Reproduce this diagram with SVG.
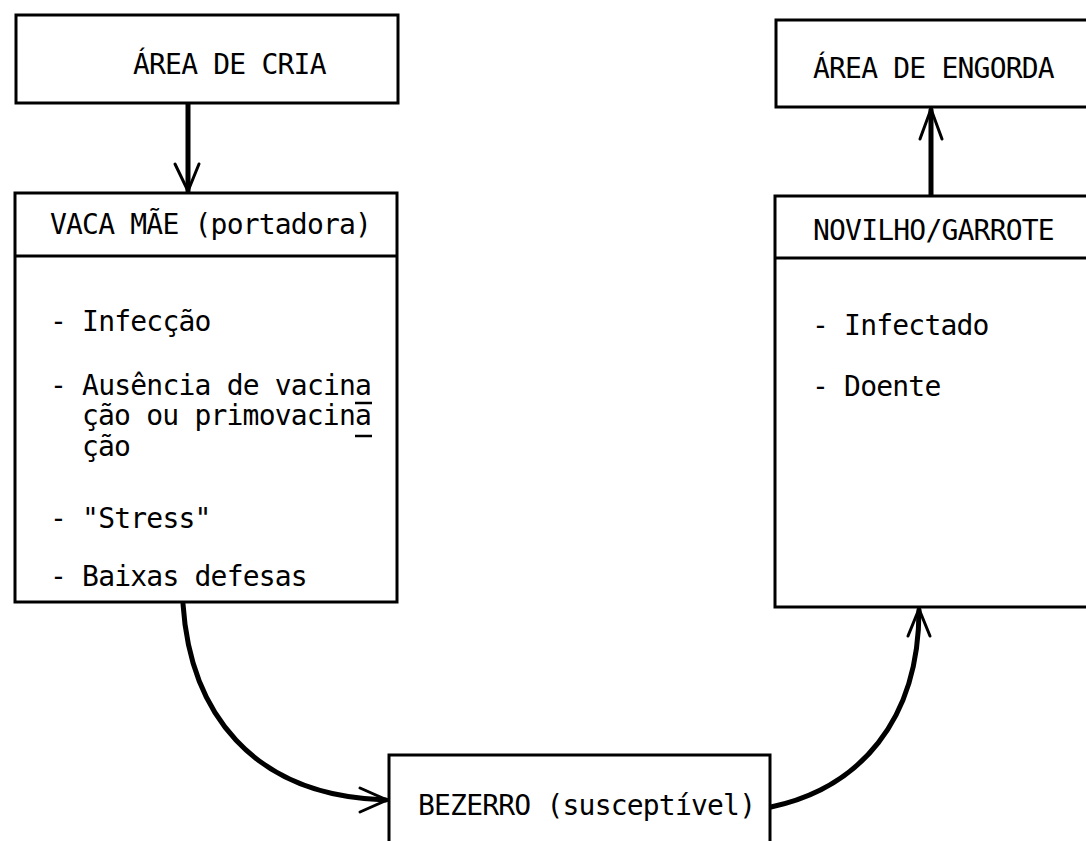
<svg xmlns="http://www.w3.org/2000/svg" width="1086" height="841" viewBox="0 0 1086 841">
<defs>
<style>
.box{fill:#fff;stroke:#000;stroke-width:3}
.div{stroke:#000;stroke-width:3}
.t{font-family:"DejaVu Sans Mono","Liberation Mono",monospace;font-size:28px;letter-spacing:-0.8px;fill:#000}
.con{fill:none;stroke:#000;stroke-width:5;stroke-linecap:round}
.head{fill:none;stroke:#000;stroke-width:3;stroke-linecap:round;stroke-linejoin:miter}
.ul{stroke:#000;stroke-width:2.5}
</style>
</defs>
<rect width="1086" height="841" fill="#fff"/>
<g id="connectors">
<line class="con" x1="188" y1="104" x2="188" y2="191"/>
<polyline class="head" points="175,164 188,191 199,164"/>
<line class="con" x1="931" y1="195" x2="931" y2="110"/>
<polyline class="head" points="920,139 931,109 942,139"/>
<path class="con" d="M183,604 C190,710 250,796 386,800"/>
<polyline class="head" points="360,788 387,800 360,812"/>
<path class="con" d="M771,807 C860,788 919,720 919,610"/>
<polyline class="head" points="908,636 919,609 930,636"/>
</g>
<g id="area-cria">
<rect class="box" x="16" y="15" width="382" height="88"/>
<text class="t" x="133" y="74">ÁREA DE CRIA</text>
</g>
<g id="vaca-mae">
<rect class="box" x="15" y="193" width="382" height="409"/>
<line class="div" x1="15" y1="256" x2="397" y2="256"/>
<text class="t" x="50" y="234">VACA MÃE (portadora)</text>
<text class="t" x="50" y="331">- Infecção</text>
<text class="t" x="50" y="395">- Ausência de vacina</text>
<text class="t" x="82" y="425">ção ou primovacina</text>
<text class="t" x="82" y="456">ção</text>
<line class="ul" x1="355" y1="403" x2="372" y2="403"/>
<line class="ul" x1="355" y1="436" x2="372" y2="436"/>
<text class="t" x="50" y="528">- "Stress"</text>
<text class="t" x="50" y="586">- Baixas defesas</text>
</g>
<g id="area-engorda">
<rect class="box" x="776" y="20" width="330" height="87"/>
<text class="t" x="813" y="78">ÁREA DE ENGORDA</text>
</g>
<g id="novilho">
<rect class="box" x="775" y="196" width="330" height="411"/>
<line class="div" x1="775" y1="258" x2="1090" y2="258"/>
<text class="t" x="813" y="240">NOVILHO/GARROTE</text>
<text class="t" x="812" y="335">- Infectado</text>
<text class="t" x="812" y="396">- Doente</text>
</g>
<g id="bezerro">
<rect class="box" x="389" y="755" width="381" height="100"/>
<text class="t" x="418" y="815">BEZERRO (susceptível)</text>
</g>
</svg>
